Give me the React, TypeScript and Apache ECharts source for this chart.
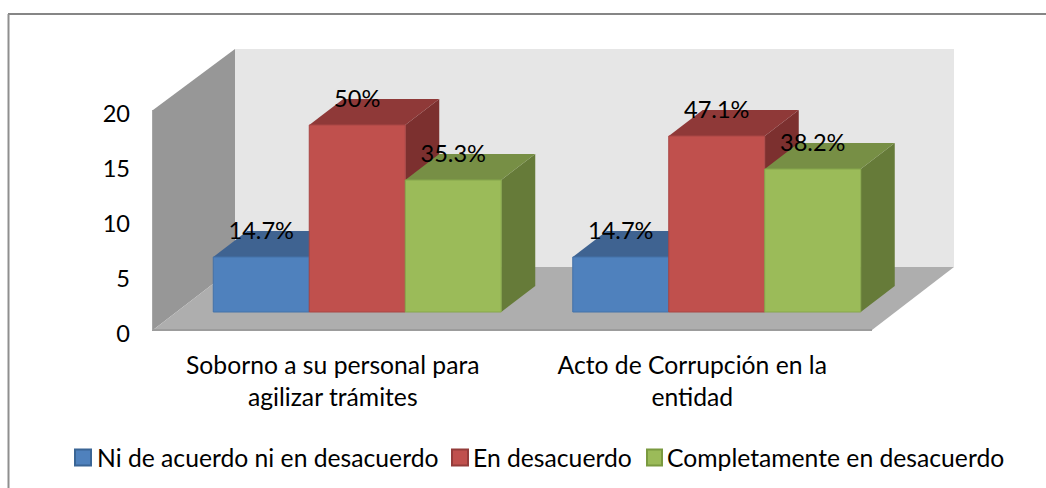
import React, { useEffect, useRef } from "react";
import * as echarts from "echarts";

const categories = ["Soborno a su personal para\nagilizar trámites", "Acto de Corrupción en la\nentidad"];
const seriesNames = ["Ni de acuerdo ni en desacuerdo", "En desacuerdo", "Completamente en desacuerdo"];
const valuesNeutral = [5, 5];
const valuesDisagree = [17, 16];
const valuesStrong = [12, 13];
const labelsNeutral = ["14.7%", "14.7%"];
const labelsDisagree = ["50%", "47.1%"];
const labelsStrong = ["35.3%", "38.2%"];
const yTicks = [0, 5, 10, 15, 20];

const FONT = "Lato, 'Open Sans', sans-serif";
const WALL_DX = 82;
const WALL_DY = 61;
const BAR_OFF_X = 24.5;
const BAR_OFF_Y = 18;
const BAR_DX = 34;
const BAR_DY = 26;
const BAR_W = 96;

function poly(points: number[][], fill: string, stroke?: string) {
  return {
    type: "polygon",
    shape: { points },
    style: { fill, stroke: stroke || fill, lineWidth: stroke ? 1 : 0 },
  };
}

function wallsItem(params: any) {
  const c = params.coordSys;
  const l = c.x, t = c.y, r = c.x + c.width, b = c.y + c.height;
  return {
    type: "group",
    children: [
      poly([[l + WALL_DX, t - WALL_DY], [r + WALL_DX, t - WALL_DY], [r + WALL_DX, b - WALL_DY - 2], [l + WALL_DX, b - WALL_DY - 2]], "#e6e6e6"),
      poly([[l, t], [l + WALL_DX, t - WALL_DY], [l + WALL_DX, b - WALL_DY - 2], [l, b]], "#979797"),
      poly([[l, b], [l + WALL_DX, b - WALL_DY - 2], [r + WALL_DX, b - WALL_DY - 2], [r, b]], "#aeaeae"),
      { type: "line", shape: { x1: l - 1, y1: b, x2: r, y2: b }, style: { stroke: "#9c9c9c", lineWidth: 2 } },
      { type: "line", shape: { x1: l - 0.5, y1: t, x2: l - 0.5, y2: b }, style: { stroke: "#a6a6a6", lineWidth: 1 } },
    ],
  };
}

function barRenderer(seriesIndex: number, front: string, top: string, side: string, edge: string, labels: string[]) {
  return (params: any, api: any) => {
    const cat = api.value(0);
    const val = api.value(1);
    const topPt = api.coord([cat, val]);
    const basePt = api.coord([cat, 0]);
    const cx = topPt[0] + BAR_OFF_X + (seriesIndex - 1) * BAR_W;
    const x0 = cx - BAR_W / 2;
    const x1 = cx + BAR_W / 2;
    const yTop = topPt[1] - BAR_OFF_Y;
    const yBase = basePt[1] - BAR_OFF_Y;
    return {
      type: "group",
      children: [
        poly([[x1, yBase], [x1 + BAR_DX, yBase - BAR_DY], [x1 + BAR_DX, yTop - BAR_DY], [x1, yTop]], side),
        poly([[x0, yTop], [x0 + BAR_DX, yTop - BAR_DY], [x1 + BAR_DX, yTop - BAR_DY], [x1, yTop]], top),
        {
          type: "rect",
          shape: { x: x0, y: yTop, width: BAR_W, height: yBase - yTop },
          style: { fill: front, stroke: edge, lineWidth: 1 },
        },
        {
          type: "text",
          z2: 100,
          style: {
            text: labels[cat],
            x: cx,
            y: yTop - BAR_DY - 1,
            align: "center",
            verticalAlign: "middle",
            font: `23.6px ${FONT}`,
            fill: "#000",
          },
        },
      ],
    };
  };
}

const toData = (vals: number[]) => vals.map((v, i) => [i, v]);

function legendFor(name: string, left: number, iconW: number, pad: number) {
  return {
    data: [{ name, icon: "rect" }],
    left,
    top: 445,
    itemWidth: iconW,
    itemHeight: 16,
    selectedMode: false,
    padding: 0,
    textStyle: { fontSize: 24.7, color: "#000", padding: [0, 0, 0, pad], fontFamily: FONT },
  };
}

export default function App() {
  const ref = useRef<HTMLDivElement>(null);
  useEffect(() => {
    const chart = echarts.init(ref.current!, undefined, { renderer: "svg" });
    const common = { type: "custom", coordinateSystem: "cartesian2d", clip: false, encode: { x: 0, y: 1 } };
    chart.setOption({
      animation: false,
      backgroundColor: "#fff",
      textStyle: { fontFamily: FONT },
      graphic: [
        { type: "line", shape: { x1: 8, y1: 14, x2: 1046, y2: 14 }, style: { stroke: "#868686", lineWidth: 2 } },
        { type: "line", shape: { x1: 8.5, y1: 14, x2: 8.5, y2: 488 }, style: { stroke: "#8f8f8f", lineWidth: 2 } },
      ],
      grid: { left: 153, top: 110, width: 719, height: 220 },
      xAxis: {
        type: "category",
        data: categories,
        axisLine: { show: false },
        axisTick: { show: false },
        axisLabel: { interval: 0, fontSize: 24.7, lineHeight: 32, color: "#000", margin: 18, fontFamily: FONT },
      },
      yAxis: {
        type: "value",
        min: yTicks[0],
        max: yTicks[yTicks.length - 1],
        interval: 5,
        axisLine: { show: false },
        axisTick: { show: false },
        splitLine: { show: false },
        axisLabel: {
          color: "#000",
          margin: 23,
          formatter: (v: number) => `{t|${v}}`,
          rich: { t: { fontSize: 23.6, color: "#000", padding: [6, 0, 0, 0], fontFamily: FONT } },
        },
      },
      legend: [
        legendFor(seriesNames[0], 74, 16, 1),
        legendFor(seriesNames[1], 451, 16, 0),
        legendFor(seriesNames[2], 646, 15, 0),
      ],
      series: [
        { ...common, name: "walls", z: 0, silent: true, data: [[0, 0]], renderItem: wallsItem },
        { ...common, name: seriesNames[0], z: 1, data: toData(valuesNeutral), itemStyle: { color: "#4f81bd", borderColor: "#3a6595", borderWidth: 1 }, renderItem: barRenderer(0, "#4f81bd", "#3f6391", "#375a85", "#4472a8", labelsNeutral) },
        { ...common, name: seriesNames[1], z: 2, data: toData(valuesDisagree), itemStyle: { color: "#c0504d", borderColor: "#943c3a", borderWidth: 1 }, renderItem: barRenderer(1, "#c0504d", "#8f3938", "#7c302f", "#a84644", labelsDisagree) },
        { ...common, name: seriesNames[2], z: 3, data: toData(valuesStrong), itemStyle: { color: "#9bbb59", borderColor: "#7a9a40", borderWidth: 1 }, renderItem: barRenderer(2, "#9bbb59", "#778f45", "#667b39", "#86a64c", labelsStrong) },
      ],
    });
    return () => chart.dispose();
  }, []);
  return <div ref={ref} style={{ width: 1046, height: 488, position: "absolute", left: 0, top: 0 }} />;
}
